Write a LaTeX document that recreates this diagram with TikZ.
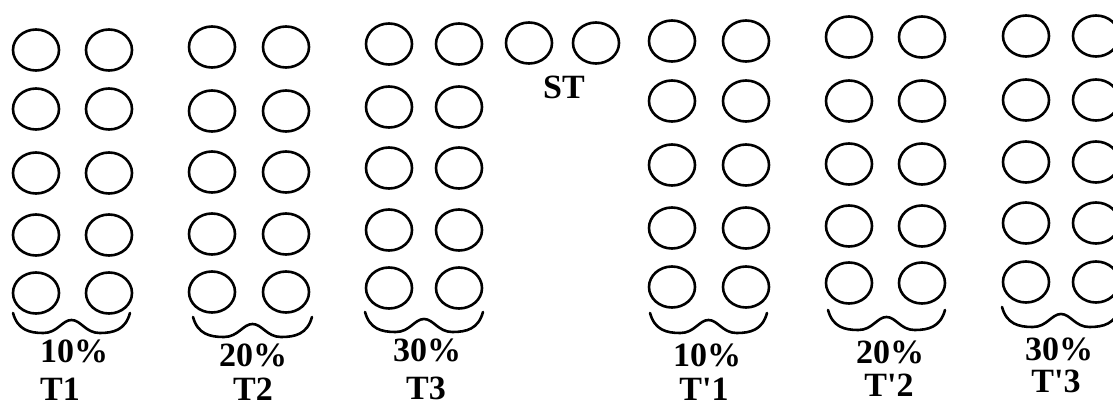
\documentclass[tikz,border=0pt]{standalone}
\usepackage{fontspec}
\setmainfont{Liberation Serif}
\usetikzlibrary{shapes.geometric}
\tikzset{
  cell/.style={draw, ellipse, line width=2.6pt, minimum width=46pt, minimum height=41pt, inner sep=0pt},
  lbl/.style={font=\fontsize{34}{36}\selectfont\bfseries, inner sep=0pt},
  brc/.style={line width=2.6pt, line cap=round}
}
\newcommand{\mybrace}[3]{% left x, right x, top y
  \pgfmathsetmacro{\wa}{#1}\pgfmathsetmacro{\wb}{#2}\pgfmathsetmacro{\wt}{#3}
  \pgfmathsetmacro{\ww}{\wb-\wa}\pgfmathsetmacro{\wm}{(\wa+\wb)/2}
  \draw[brc] (\wa,\wt) .. controls ({\wa+0.04*\ww},{\wt+17}) and ({\wa+0.14*\ww},{\wt+20}) .. ({\wa+0.26*\ww},{\wt+20})
    .. controls ({\wa+0.38*\ww},{\wt+20}) and ({\wm-0.08*\ww},{\wt+7}) .. (\wm,{\wt+7})
    .. controls ({\wm+0.08*\ww},{\wt+7}) and ({\wb-0.38*\ww},{\wt+20}) .. ({\wb-0.26*\ww},{\wt+20})
    .. controls ({\wb-0.14*\ww},{\wt+20}) and ({\wb-0.04*\ww},{\wt+17}) .. (\wb,\wt);
}
\begin{document}
\begin{tikzpicture}[x=1pt,y=-1pt]
\clip (0,0) rectangle (1113,407);
\fill[white] (0,0) rectangle (1113,407);
% groups: name / left x / right x / row ys
\foreach \g/\xl/\xr/\ya/\yb/\yc/\yd/\ye in {
  A/36/109/50/109/173/235/293,
  B/212/286/47/111/172/234/292,
  C/389/459/44/107/168/230/288,
  D/672/746/41/101/165/228/287,
  E/849/922/37/101/164/226/283,
  F/1026/1096/36/100/162/223/282}{
  \foreach \r/\yy in {1/\ya,2/\yb,3/\yc,4/\yd,5/\ye}{
    \node[cell] (\g-\r-1) at (\xl,\yy) {};
    \node[cell] (\g-\r-2) at (\xr,\yy) {};
  }
}
% ST
\node[cell] (ST-1) at (529,43) {};
\node[cell] (ST-2) at (596,43) {};
\node[lbl] (stl) at (564,87) {ST};
% braces
\mybrace{13}{130}{313}
\mybrace{193}{312}{317}
\mybrace{365}{483}{312}
\mybrace{650}{767}{313}
\mybrace{828}{945}{310}
\mybrace{1002}{1120}{307}
% labels
\node[lbl] (pA) at (74,351) {10\%};
\node[lbl] (tA) at (60,389) {T1};
\node[lbl] (pB) at (253,355) {20\%};
\node[lbl] (tB) at (253,389) {T2};
\node[lbl] (pC) at (427,350) {30\%};
\node[lbl] (tC) at (426,388) {T3};
\node[lbl] (pD) at (707,355) {10\%};
\node[lbl] (tD) at (704,389) {T\textquotesingle1};
\node[lbl] (pE) at (890,352) {20\%};
\node[lbl] (tE) at (889,385) {T\textquotesingle2};
\node[lbl] (pF) at (1059,349) {30\%};
\node[lbl] (tF) at (1056,381) {T\textquotesingle3};
\end{tikzpicture}
\end{document}
